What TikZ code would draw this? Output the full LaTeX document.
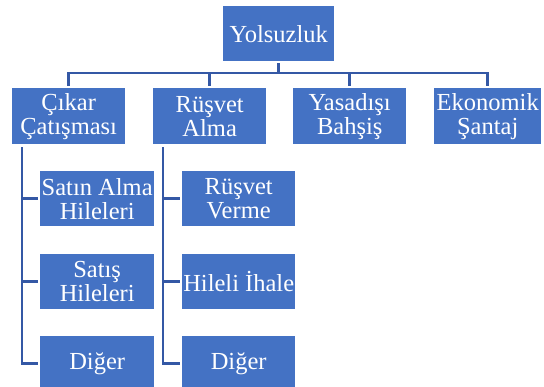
\documentclass[tikz,border=0pt]{standalone}
\usepackage{fontspec}
\setmainfont{Liberation Serif}
\newfontfamily\boxfont{Liberation Serif}
\usetikzlibrary{calc}
\definecolor{boxblue}{HTML}{4472C4}
\definecolor{linkblue}{RGB}{52,88,165}
\tikzset{
  orgbox/.style={fill=boxblue, text=white, inner sep=0pt, align=center,
    anchor=north west, font=\boxfont\fontsize{24.5}{24}\selectfont},
  topbox/.style={orgbox, minimum width=111pt, minimum height=55pt},
  mainbox/.style={orgbox, minimum width=113pt, minimum height=56pt},
  subbox/.style={orgbox, minimum width=114pt, minimum height=55pt},
  conn/.style={draw=linkblue, line width=2.8pt, line join=miter}
}
\begin{document}
\begin{tikzpicture}[x=1pt, y=-1pt]
\useasboundingbox (0,0) rectangle (544,387);
\clip (0,0) rectangle (544,387);

% root
\node[topbox] (top) at (223,6) {Yolsuzluk};

% first level
\node[mainbox] (c1) at (12,88)  {Çıkar\\Çatışması};
\node[mainbox] (c2) at (153,88) {Rüşvet\\Alma};
\node[mainbox] (c3) at (293,88) {Yasadışı\\Bahşiş};
\node[mainbox, minimum width=107pt] (c4) at (434,88) {Ekonomik\\Şantaj};

% second level under Çıkar Çatışması
\node[subbox] (s11) at (40,171) {Satın Alma\\Hileleri};
\node[subbox] (s12) at (40,254) {Satış\\Hileleri};
\node[subbox] (s13) at (40,336) {Diğer};

% second level under Rüşvet Alma
\node[subbox, minimum width=113pt] (s21) at (182,171) {Rüşvet\\Verme};
\node[subbox, minimum width=113pt] (s22) at (182,254) {Hileli İhale};
\node[subbox, minimum width=113pt] (s23) at (182,336) {Diğer};

% bus from the root to the first level
\coordinate (bus) at (top.south |- 0,73);
\draw[conn] ([yshift=-2pt]top.south) -- (bus);
\foreach \n in {c1,c2,c3,c4}
  \draw[conn] (bus) -| ([yshift=1.5pt]\n.north);

% spines down to the second level
\coordinate (sp1) at ([xshift=10pt,yshift=-3pt]c1.south west);
\coordinate (sp2) at ([xshift=10pt,yshift=-3pt]c2.south west);
\foreach \n in {s11,s12,s13}
  \draw[conn] (sp1) |- ([xshift=-2pt]\n.west);
\foreach \n in {s21,s22,s23}
  \draw[conn] (sp2) |- ([xshift=-2pt]\n.west);
\end{tikzpicture}
\end{document}
